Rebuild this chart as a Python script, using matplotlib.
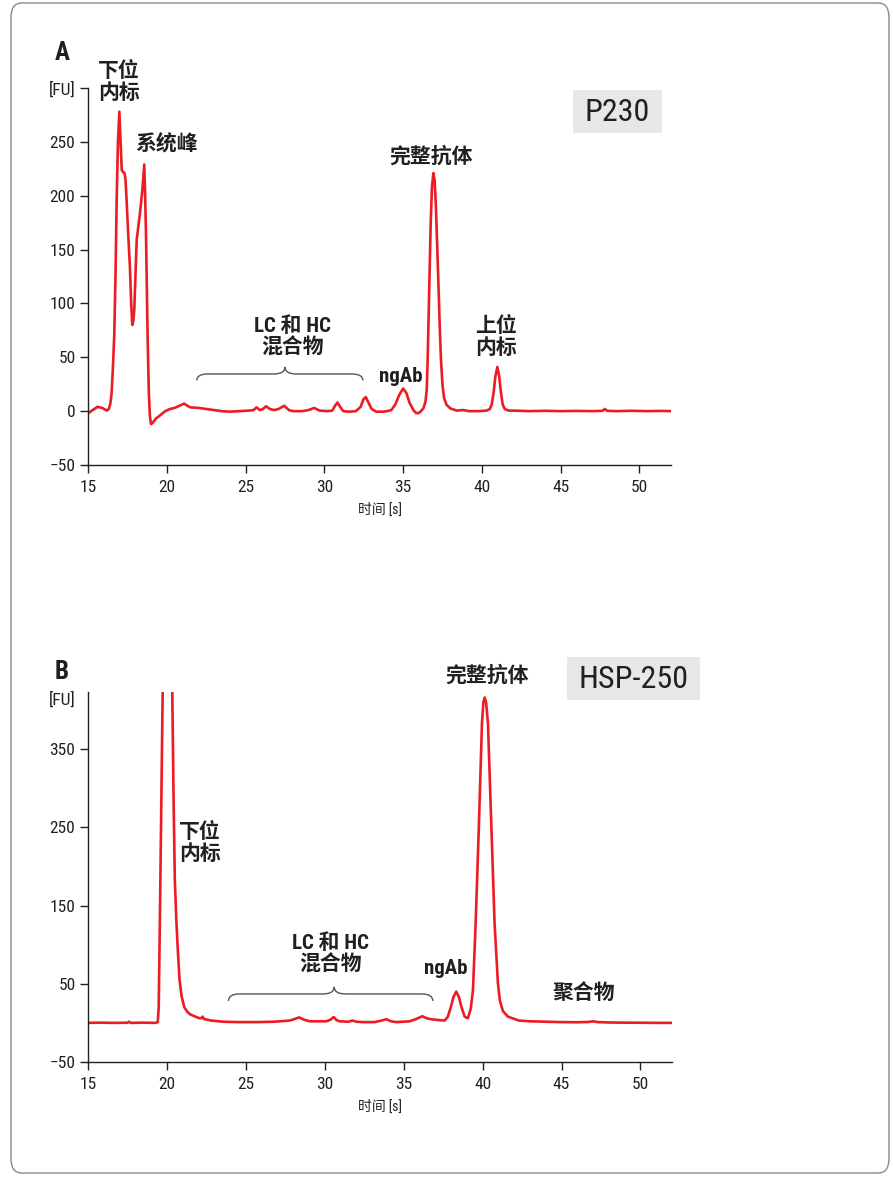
import matplotlib
matplotlib.use("Agg")
import matplotlib.pyplot as plt
from matplotlib.patches import FancyBboxPatch, PathPatch
from matplotlib.path import Path

# trace A (P230): migration time [s] and fluorescence [FU]
a_time = [15.0, 15.3, 15.6, 15.9, 16.2, 16.32, 16.42, 16.5, 16.58, 16.67,
          16.75, 16.82, 16.9, 16.99, 17.06, 17.14, 17.22, 17.32, 17.38, 17.45,
          17.55, 17.66, 17.74, 17.81, 17.88, 17.94, 18.02, 18.09, 18.2, 18.3,
          18.45, 18.57, 18.62, 18.68, 18.78, 18.86, 18.93, 19.0, 19.1, 19.3,
          19.57, 19.9, 20.2, 20.5, 20.8, 21.1, 21.3, 21.5, 22.0, 22.5,
          23.0, 23.5, 24.0, 24.6, 25.2, 25.5, 25.7, 25.9, 26.1, 26.3,
          26.55, 26.8, 27.1, 27.45, 27.75, 28.0, 28.6, 29.0, 29.35, 29.7,
          30.2, 30.5, 30.68, 30.83, 31.0, 31.2, 31.6, 32.0, 32.3, 32.48,
          32.63, 32.8, 33.0, 33.3, 33.7, 34.0, 34.25, 34.5, 34.75, 35.0,
          35.2, 35.4, 35.65, 35.8, 35.95, 36.1, 36.3, 36.42, 36.5, 36.56,
          36.62, 36.68, 36.75, 36.83, 36.92, 37.0, 37.08, 37.16, 37.24, 37.32,
          37.4, 37.5, 37.6, 37.75, 38.0, 38.4, 38.8, 39.2, 39.8, 40.3,
          40.5, 40.62, 40.75, 40.85, 40.98, 41.1, 41.2, 41.32, 41.45, 41.7,
          42.0, 43.0, 44.0, 45.0, 46.0, 47.0, 47.65, 47.8, 47.95, 48.5,
          49.5, 50.5, 51.5, 52.0]
a_fu = [-2, 1, 4, 3, 0.5, 2, 7, 17, 40, 72,
        130, 196, 250, 278, 252, 224, 222, 221, 215, 196,
        165, 134, 100, 80, 84, 95, 130, 159, 172, 184,
        205, 229, 205, 165, 72, 17, -5, -12, -11, -7,
        -4, 0, 2, 3, 5, 7, 5, 3.5, 3, 2,
        1, 0, -0.5, 0, 0.5, 1, 3.5, 1, 2, 4.5,
        2, 1, 2, 5, 1, 0, 0, 1, 3, 0.5,
        0, 0.5, 5, 8, 4, 0, -0.5, 0, 4, 11,
        13, 8, 2, -0.5, -0.5, 0, 1, 6, 15, 21,
        17, 8, 1, -1.5, -2, -0.5, 3, 9, 20, 50,
        90, 130, 175, 208, 221, 214, 190, 155, 118, 80,
        48, 24, 12, 6, 2.5, 0.5, 1, 0, 0, 0.5,
        2, 6, 18, 32, 41, 32, 18, 6, 2, 0.5,
        0.5, 0, 0.3, 0, 0.2, 0, 0.3, 2, 0.3, 0,
        0.3, 0, 0.2, 0]

# trace B (HSP-250)
b_time = [15.0, 15.8, 16.6, 17.5, 17.6, 17.7, 18.5, 19.3, 19.42, 19.48,
          19.56, 19.65, 19.73, 20.03, 20.34, 20.42, 20.5, 20.6, 20.68, 20.8,
          20.93, 21.1, 21.3, 21.46, 21.8, 22.05, 22.2, 22.26, 22.35, 22.8,
          23.56, 24.5, 25.68, 26.8, 27.78, 28.1, 28.37, 28.7, 29.05, 30.1,
          30.35, 30.57, 30.75, 30.95, 31.5, 31.75, 32.0, 32.4, 33.16, 33.6,
          33.9, 34.2, 34.54, 35.38, 35.8, 36.18, 36.45, 36.65, 37.0, 37.28,
          37.6, 37.8, 38.0, 38.15, 38.33, 38.5, 38.65, 38.86, 39.07, 39.25,
          39.39, 39.56, 39.77, 39.96, 40.05, 40.13, 40.22, 40.34, 40.55, 40.76,
          40.97, 41.1, 41.29, 41.6, 42.3, 43.0, 44.0, 45.0, 46.0, 46.7,
          47.0, 47.3, 48.0, 49.0, 50.0, 51.0, 52.0]
b_fu = [0, 0.3, 0, 0.2, 1.5, 0, 0.3, 0, 1, 20,
        140, 290, 421, 950, 421, 290, 183, 130, 97, 55,
        34, 20, 14, 11, 8, 6, 6, 8, 5, 3,
        1.5, 1, 1, 1.5, 3, 5, 7, 4, 2, 2,
        4, 7.5, 3.5, 2, 1.5, 3, 1.5, 1, 1, 3,
        4.7, 2, 1, 2, 5, 8.5, 6, 5, 4, 3.5,
        3, 8, 21, 33, 40, 33, 21, 8, 6, 18,
        42, 127, 255, 383, 410, 416, 410, 383, 255, 127,
        51, 28, 15, 8, 3, 2, 1.5, 1, 0.8, 1.2,
        2, 1, 0.5, 0.3, 0.2, 0, 0]

a_yticks = [-50, 0, 50, 100, 150, 200, 250, 300]
a_yticklabels = ["\u221250", "0", "50", "100", "150", "200", "250", "[FU]"]
b_yticks = [-50, 50, 150, 250, 350]
b_yticklabels = ["\u221250", "50", "150", "250", "350"]
xticks = [15, 20, 25, 30, 35, 40, 45, 50]

W, H = 893, 1177
RED = "#ec1c24"
INK = "#231f20"
NARROW = ["Roboto Condensed", "Sofia Sans Condensed", "Liberation Sans Narrow",
          "DejaVu Sans"]
CJK = ["Roboto Condensed", "Sofia Sans Condensed", "Liberation Sans Narrow",
       "Noto Sans CJK SC", "DejaVu Sans"]


def fx(x, y):
    return x / W, 1 - y / H


def brace(ax, x0, x1, xm, y_end, y_mid, y_tip, dx=0.7):
    verts = [(x0, y_end), (x0, y_mid), (x0 + dx, y_mid),
             (xm - dx, y_mid), (xm, y_mid), (xm, y_tip),
             (xm, y_mid), (xm + dx, y_mid),
             (x1 - dx, y_mid), (x1, y_mid), (x1, y_end)]
    codes = [Path.MOVETO, Path.CURVE3, Path.CURVE3,
             Path.LINETO, Path.CURVE3, Path.CURVE3,
             Path.CURVE3, Path.CURVE3,
             Path.LINETO, Path.CURVE3, Path.CURVE3]
    ax.add_patch(PathPatch(Path(verts, codes), fill=False, ec="#555555",
                           lw=1.0, clip_on=False))


def style(ax, yticks, ylabels, ylim):
    ax.set_xlim(15, 52)
    ax.set_ylim(*ylim)
    for s in ["top", "right"]:
        ax.spines[s].set_visible(False)
    for s in ["left", "bottom"]:
        ax.spines[s].set_linewidth(1.0)
        ax.spines[s].set_color(INK)
    ax.set_xticks(xticks)
    ax.set_yticks(yticks)
    ax.set_yticklabels(ylabels)
    ax.tick_params(axis="both", length=5.5, width=1.0, color=INK,
                   labelcolor=INK, labelsize=12.5)
    ax.tick_params(axis="x", pad=5)
    ax.tick_params(axis="y", pad=3.5)
    for lab in ax.get_xticklabels() + ax.get_yticklabels():
        lab.set_family(NARROW)
    ax.set_xlabel("时间 [s]", family=CJK, fontsize=10, color=INK, labelpad=6)
    ax.patch.set_alpha(0)


fig = plt.figure(figsize=(W / 100, H / 100), dpi=100)

frame = FancyBboxPatch((11 / W, 4 / H), 878 / W, 1170 / H,
                       boxstyle="round,pad=0,rounding_size=0.012",
                       transform=fig.transFigure, fill=False,
                       ec="#8a8a8a", lw=1.0)
fig.patches.append(frame)

# panel A
axA = fig.add_axes([88 / W, 1 - 465 / H, (671 - 88) / W, (465 - 88) / H])
axA.plot(a_time, a_fu, color=RED, lw=1.9)
style(axA, a_yticks, a_yticklabels, (-50, 300))
brace(axA, 21.9, 32.45, 27.5, 28.5, 34.5, 41)

# panel B
axB = fig.add_axes([88 / W, 1 - 1062 / H, (672 - 88) / W, (1062 - 692) / H])
axB.plot(b_time, b_fu, color=RED, lw=1.9)
style(axB, b_yticks, b_yticklabels, (-50, 423))
brace(axB, 23.9, 36.85, 30.6, 28, 37, 46)

bold = dict(family=CJK, fontweight="bold", color=INK, ha="center",
            va="center", fontsize=15, linespacing=1.1)

fig.text(*fx(62, 53), "A", family=NARROW, fontweight="bold", fontsize=18,
         color=INK, ha="center", va="center")
fig.text(*fx(62, 672), "B", family=NARROW, fontweight="bold", fontsize=18,
         color=INK, ha="center", va="center")
fig.text(*fx(62, 700), "[FU]", family=NARROW, fontsize=12.5, color=INK,
         ha="center", va="center")

fig.text(*fx(119, 82), "下位\n内标", **bold)
fig.text(*fx(167, 144), "系统峰", **bold)
fig.text(*fx(293, 337), "LC 和 HC\n混合物", **bold)
fig.text(*fx(401, 376), "ngAb", **bold)
fig.text(*fx(431, 156), "完整抗体", **bold)
fig.text(*fx(496, 337), "上位\n内标", **bold)

fig.text(*fx(200, 843), "下位\n内标", **bold)
fig.text(*fx(331, 954), "LC 和 HC\n混合物", **bold)
fig.text(*fx(446, 968), "ngAb", **bold)
fig.text(*fx(487, 675), "完整抗体", **bold)
fig.text(*fx(584, 993), "聚合物", **bold)

for (x0, y0, x1, y1, label) in [(573, 90, 662, 133, "P230"),
                                 (567, 657, 700, 700, "HSP-250")]:
    fig.patches.append(FancyBboxPatch((x0 / W, 1 - y1 / H), (x1 - x0) / W,
                                      (y1 - y0) / H, boxstyle="square,pad=0",
                                      transform=fig.transFigure,
                                      fc="#e6e7e8", ec="none"))
    fig.text(*fx((x0 + x1) / 2, (y0 + y1) / 2 + 1), label, family=NARROW,
             fontsize=23, color=INK, ha="center", va="center")

fig.savefig("out.png", dpi=100)
